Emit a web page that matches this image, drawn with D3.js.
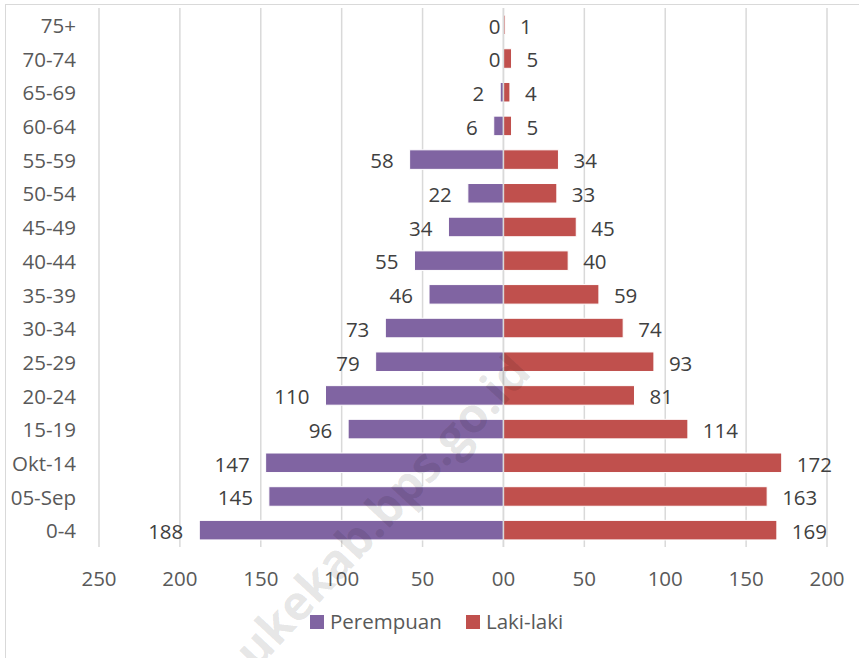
<!DOCTYPE html>
<html>
<head>
<meta charset="utf-8">
<script src="https://cdn.jsdelivr.net/npm/d3@7"></script>
<style>
  body { margin: 0; background: #fff; }
  text { font-family: "Open Sans", sans-serif; }
</style>
</head>
<body>
<div id="chart"></div>
<script>
// age groups, top to bottom
const ageGroups = ['75+', '70-74', '65-69', '60-64', '55-59', '50-54', '45-49', '40-44',
                   '35-39', '30-34', '25-29', '20-24', '15-19', 'Okt-14', '05-Sep', '0-4'];
const perempuan = [0, 0, 2, 6, 58, 22, 34, 55, 46, 73, 79, 110, 96, 147, 145, 188];
const lakiLaki  = [1, 5, 4, 5, 34, 33, 45, 40, 59, 74, 93, 81, 114, 172, 163, 169];
const tickValues = [-250, -200, -150, -100, -50, 0, 50, 100, 150, 200];
const tickLabels = ['250', '200', '150', '100', '50', '00', '50', '100', '150', '200'];
const seriesNames = ['Perempuan', 'Laki-laki'];
const colors = ['#8064a2', '#c0504d'];

function draw(){
    let dimensions = {
        width: 859,
        height: 658,
        margin: { top: 8, bottom: 111, left: 99, right: 32 }
    }
    const fontSize = 20.5

    const svg = d3.select('#chart')
      .append('svg')
      .attr('width', dimensions.width)
      .attr('height', dimensions.height)

    // chart area frame
    svg.append('rect')
       .attr('x', 5.5).attr('y', 4.5)
       .attr('width', dimensions.width + 10).attr('height', dimensions.height + 10)
       .attr('fill', '#fff')
       .attr('stroke', '#d9d9d9')

    const xScale = d3.scaleLinear()
                     .domain([-250, 200])
                     .range([dimensions.margin.left, dimensions.width - dimensions.margin.right])

    const yScale = d3.scaleBand()
                     .domain(ageGroups)
                     .range([dimensions.margin.top, dimensions.height - dimensions.margin.bottom])
                     .paddingInner(0.42)
                     .paddingOuter(0.21)

    // gridlines
    svg.append('g')
       .selectAll('line')
       .data(tickValues)
       .join('line')
       .attr('x1', d => xScale(d)).attr('x2', d => xScale(d))
       .attr('y1', dimensions.margin.top)
       .attr('y2', dimensions.height - dimensions.margin.bottom)
       .attr('stroke', '#d9d9d9')
       .attr('stroke-width', 1.5)

    // x tick labels
    svg.append('g')
       .selectAll('text')
       .data(tickValues)
       .join('text')
       .attr('x', d => xScale(d))
       .attr('y', 586)
       .attr('text-anchor', 'middle')
       .attr('font-size', fontSize)
       .attr('fill', '#595959')
       .text((d, i) => tickLabels[i])

    // category labels
    svg.append('g')
       .selectAll('text')
       .data(ageGroups)
       .join('text')
       .attr('x', 76)
       .attr('y', d => yScale(d) + yScale.bandwidth() / 2)
       .attr('dy', '0.4em')
       .attr('text-anchor', 'end')
       .attr('font-size', fontSize)
       .attr('fill', '#595959')
       .text(d => d)

    const rows = ageGroups.map((g, i) => ({ group: g, p: perempuan[i], l: lakiLaki[i] }))

    // Perempuan bars (left side)
    svg.append('g')
       .selectAll('rect')
       .data(rows)
       .join('rect')
       .attr('x', d => xScale(-d.p))
       .attr('y', d => yScale(d.group))
       .attr('width', d => xScale(0) - xScale(-d.p))
       .attr('height', yScale.bandwidth())
       .attr('fill', colors[0])
       .attr('stroke', '#fff')
       .attr('stroke-width', d => d.p ? 1 : 0)

    // Laki-laki bars (right side)
    svg.append('g')
       .selectAll('rect')
       .data(rows)
       .join('rect')
       .attr('x', xScale(0))
       .attr('y', d => yScale(d.group))
       .attr('width', d => xScale(d.l) - xScale(0))
       .attr('height', yScale.bandwidth())
       .attr('fill', colors[1])
       .attr('stroke', '#fff')
       .attr('stroke-width', 1)

    // zero axis line
    svg.append('line')
       .attr('x1', xScale(0)).attr('x2', xScale(0))
       .attr('y1', dimensions.margin.top)
       .attr('y2', dimensions.height - dimensions.margin.bottom)
       .attr('stroke', '#d9d9d9')
       .attr('stroke-width', 1.5)

    // data labels
    svg.append('g')
       .selectAll('text')
       .data(rows)
       .join('text')
       .attr('x', d => xScale(-d.p) - (d.p ? 16 : 3))
       .attr('y', d => yScale(d.group) + yScale.bandwidth() / 2)
       .attr('dy', '0.43em')
       .attr('text-anchor', 'end')
       .attr('font-size', fontSize)
       .attr('fill', '#404040')
       .text(d => d.p)

    svg.append('g')
       .selectAll('text')
       .data(rows)
       .join('text')
       .attr('x', d => xScale(d.l) + 15)
       .attr('y', d => yScale(d.group) + yScale.bandwidth() / 2)
       .attr('dy', '0.43em')
       .attr('font-size', fontSize)
       .attr('fill', '#404040')
       .text(d => d.l)

    // legend
    const legend = svg.append('g')
    const legendX = [310, 466]
    seriesNames.forEach((name, i) => {
        legend.append('rect')
              .attr('x', legendX[i]).attr('y', 615)
              .attr('width', 14).attr('height', 14)
              .attr('fill', colors[i])
        legend.append('text')
              .attr('x', legendX[i] + 20).attr('y', 629)
              .attr('font-size', fontSize)
              .attr('fill', '#595959')
              .text(name)
    })

    // watermark
    svg.append('text')
       .attr('transform', 'translate(533,374) rotate(-47)')
       .attr('text-anchor', 'end')
       .attr('font-size', 48)
       .attr('font-weight', 'bold')
       .attr('fill', '#000')
       .attr('fill-opacity', 0.11)
       .text('aukekab.bps.go.id')
}

draw();
</script>
</body>
</html>
